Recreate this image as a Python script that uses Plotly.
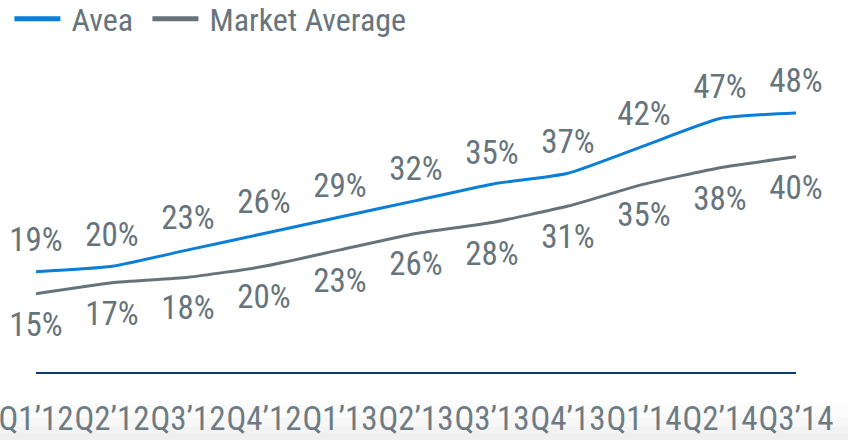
import plotly.graph_objects as go

categories = ["Q1\u201912", "Q2\u201912", "Q3\u201912", "Q4\u201912", "Q1\u201913", "Q2\u201913",
              "Q3\u201913", "Q4\u201913", "Q1\u201914", "Q2\u201914", "Q3\u201914"]
avea = [19, 20, 23, 26, 29, 32, 35, 37, 42, 47, 48]
market = [15, 17, 18, 20, 23, 26, 28, 31, 35, 38, 40]

BLUE = "#0a7ed8"
GRAY = "#66737b"
TXT = "#66747c"
FONT = "Roboto Condensed, Roboto, sans-serif"

fig = go.Figure()
fig.add_trace(go.Scatter(
    x=categories, y=avea, name="\u2009Avea", mode="lines+markers+text",
    line=dict(color=BLUE, width=3, shape="spline", smoothing=0.5),
    marker=dict(size=18, color="rgba(0,0,0,0)"),
    text=[f"{v}%" for v in avea], textposition="top center",
    textfont=dict(family=FONT, size=33, color=TXT),
    cliponaxis=False, hoverinfo="skip", legend="legend",
))
fig.add_trace(go.Scatter(
    x=categories, y=market, name="\u2009Market Average", mode="lines+markers+text",
    line=dict(color=GRAY, width=3, shape="spline", smoothing=0.5),
    marker=dict(size=26, color="rgba(0,0,0,0)"),
    text=[f"{v}%" for v in market], textposition="bottom center",
    textfont=dict(family=FONT, size=33, color=TXT),
    cliponaxis=False, hoverinfo="skip", legend="legend2",
))

legend_common = dict(orientation="h", xanchor="left", yanchor="middle",
                     xref="container", yref="container", y=1 - 19 / 440,
                     font=dict(family=FONT, size=32, color=TXT), itemwidth=46,
                     bgcolor="rgba(0,0,0,0)", itemsizing="constant")

# faint grey fade at the bottom edge of the picture
fade = [dict(type="rect", xref="paper", yref="paper", x0=-0.1, x1=1.1,
             y0=-0.25, y1=y1, fillcolor="rgba(0,0,0,0.014)", line_width=0, layer="below")
        for y1 in (-0.10, -0.14, -0.17, -0.19)]

fig.update_layout(
    width=848, height=440,
    margin=dict(l=36, r=52, t=50, b=68),
    paper_bgcolor="white", plot_bgcolor="white",
    font=dict(family=FONT, size=31, color=TXT),
    showlegend=True,
    legend=dict(x=9.4 / 848, **legend_common),
    legend2=dict(x=147.4 / 848, **legend_common),
    shapes=fade,
    xaxis=dict(type="category", range=[0, 10], showgrid=False, zeroline=False,
               showline=True, linecolor="#0b3a7e", linewidth=2,
               ticks="", ticklabelstandoff=16, automargin=False, tickangle=0,
               tickfont=dict(family=FONT, size=33, color="#6e7b83")),
    yaxis=dict(range=[0.7, 59.5], visible=False, showgrid=False, zeroline=False,
               automargin=False),
)

fig.write_html("out.html", config={"displayModeBar": False},
               post_script="document.body.style.margin='0';")
